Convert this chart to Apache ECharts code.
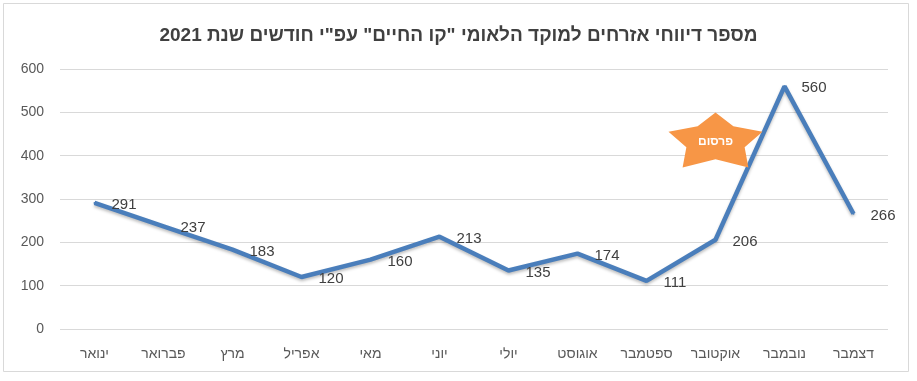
<!DOCTYPE html>
<html><head><meta charset="utf-8">
<script src="https://cdn.jsdelivr.net/npm/echarts@6/dist/echarts.min.js"></script>
<style>html,body{margin:0;padding:0;background:#fff}#c{width:917px;height:381px}</style>
</head><body><div id="c"></div>
<script>
const titleText = 'מספר דיווחי אזרחים למוקד הלאומי "קו החיים" עפ"י חודשים שנת 2021';
const months = ['ינואר','פברואר','מרץ','אפריל','מאי','יוני','יולי','אוגוסט','ספטמבר','אוקטובר','נובמבר','דצמבר'];
const reports = [291,237,183,120,160,213,135,174,111,206,560,266];
const yTicks = [0,100,200,300,400,500,600];
const annotationText = 'פרסום';
const annotationAt = ['אוקטובר', 436];

const font = '"Liberation Sans", Arial, "DejaVu Sans", sans-serif';
const starPath = 'path://M50,0 L69,25 L100,35 L81,63 L85,100 L50,85 L15,100 L19,63 L0,35 L31,25 Z';

const chart = echarts.init(document.getElementById('c'), null, {renderer:'canvas'});
chart.setOption({
  animation:false,
  backgroundColor:'#fff',
  title:{text:titleText,left:'center',top:21,textStyle:{fontFamily:font,fontSize:19,fontWeight:'bold',color:'#404040'}},
  grid:{left:60,right:29,top:69,bottom:52},
  xAxis:{type:'category',data:months,boundaryGap:true,
    axisLine:{show:false},axisTick:{show:false},
    axisLabel:{color:'#595959',fontFamily:font,fontSize:14,margin:18}},
  yAxis:{type:'value',min:yTicks[0],max:yTicks[yTicks.length-1],interval:100,
    axisLine:{show:false},axisTick:{show:false},
    axisLabel:{color:'#595959',fontFamily:font,fontSize:14,margin:16},
    splitLine:{lineStyle:{color:'#d9d9d9',width:1}}},
  series:[{type:'line',data:reports,symbol:'circle',symbolSize:2,showSymbol:true,
    itemStyle:{color:'#4a7ebb'},
    lineStyle:{color:'#4a7ebb',width:4.5,shadowColor:'rgba(0,0,0,0.25)',shadowBlur:3,shadowOffsetY:2},
    label:{show:true,position:'right',distance:16,color:'#404040',fontFamily:font,fontSize:15,offset:[0,2]},
    markPoint:{symbol:starPath,symbolSize:[94,55],symbolKeepAspect:false,
      itemStyle:{color:'#f79646'},
      label:{show:true,formatter:annotationText,color:'#fff',fontFamily:font,fontSize:12,fontWeight:'bold',offset:[0,2]},
      data:[{coord:annotationAt}]}
  }],
  graphic:[{type:'rect',shape:{x:3.5,y:3.5,width:905,height:368},style:{fill:'none',stroke:'#d9d9d9',lineWidth:1},silent:true}]
});
</script></body></html>
